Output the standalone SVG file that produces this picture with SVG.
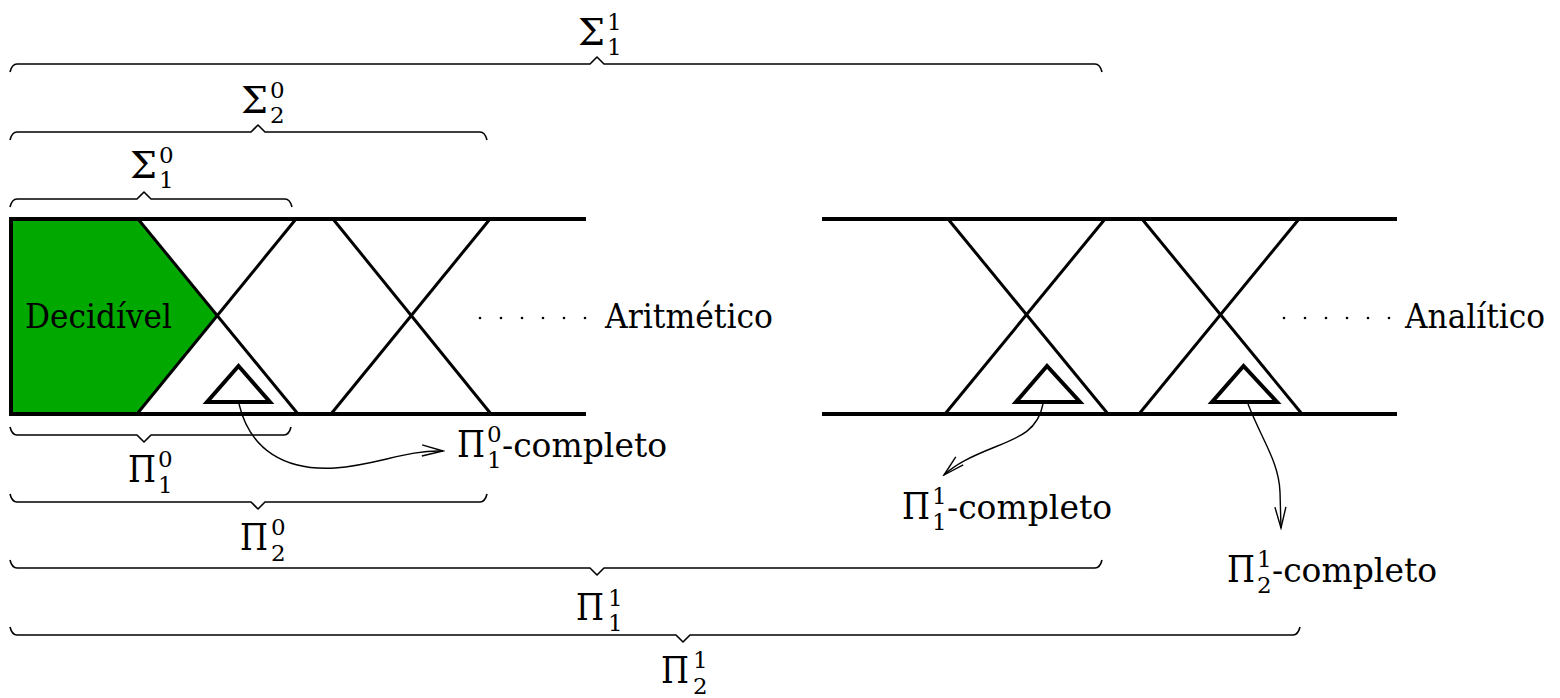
<svg xmlns="http://www.w3.org/2000/svg" width="1560" height="698" viewBox="0 0 1560 698">
<style>
.band{stroke:#000;stroke-width:4;fill:none}
.x{stroke:#000;stroke-width:3;fill:none}
.tri{stroke:#000;stroke-width:4;fill:#fff;stroke-linejoin:miter}
.brace{stroke:#000;stroke-width:1.6;fill:none;stroke-linejoin:round}
.arr{stroke:#000;stroke-width:1.4;fill:none}
text{font-family:"DejaVu Serif","Liberation Serif",serif;fill:#000}
.t{font-size:34px}
.m{font-size:37px}
.s{font-size:23px}
.dot{fill:#000}
</style>
<defs>
<marker id="ah" viewBox="-24 -8 26 16" refX="0" refY="0" markerWidth="26" markerHeight="16" markerUnits="userSpaceOnUse" orient="auto">
<path d="M-21,-5.5 L0,0 L-21,5.5" fill="none" stroke="#000" stroke-width="1.4"/>
</marker>
</defs>

<g id="aritmetico">
<polygon points="11,219 138,219 217,316 137,414 11,414" fill="#00a800"/>
<line class="band" x1="11" y1="219" x2="586" y2="219"/>
<line class="band" x1="11" y1="414" x2="586" y2="414"/>
<line class="band" x1="11" y1="217" x2="11" y2="416"/>
<line class="x" x1="138" y1="219" x2="298" y2="414"/>
<line class="x" x1="296" y1="219" x2="137" y2="414"/>
<line class="x" x1="333" y1="219" x2="491" y2="414"/>
<line class="x" x1="490" y1="219" x2="331" y2="414"/>
<polygon class="tri" points="238.5,366 207,402 270,402"/>
<text class="t" x="25" y="328" textLength="147" lengthAdjust="spacingAndGlyphs">Decidível</text>
<g class="dot"><circle cx="480" cy="318" r="1.3"/><circle cx="501" cy="318" r="1.3"/><circle cx="522" cy="318" r="1.3"/><circle cx="543" cy="318" r="1.3"/><circle cx="564" cy="318" r="1.3"/><circle cx="585" cy="318" r="1.3"/></g>
<text class="t" x="605" y="328" textLength="168" lengthAdjust="spacingAndGlyphs">Aritmético</text>
</g>

<g id="analitico">
<line class="band" x1="822" y1="219" x2="1397" y2="219"/>
<line class="band" x1="822" y1="414" x2="1397" y2="414"/>
<line class="x" x1="948" y1="219" x2="1108" y2="414"/>
<line class="x" x1="1105" y1="219" x2="945" y2="414"/>
<line class="x" x1="1142" y1="219" x2="1302" y2="414"/>
<line class="x" x1="1299" y1="219" x2="1139" y2="414"/>
<polygon class="tri" points="1047,366 1016,402 1080,402"/>
<polygon class="tri" points="1243.5,366 1212,402 1277,402"/>
<g class="dot"><circle cx="1284" cy="318" r="1.3"/><circle cx="1305" cy="318" r="1.3"/><circle cx="1326" cy="318" r="1.3"/><circle cx="1347" cy="318" r="1.3"/><circle cx="1368" cy="318" r="1.3"/><circle cx="1389" cy="318" r="1.3"/></g>
<text class="t" x="1405" y="328" textLength="140" lengthAdjust="spacingAndGlyphs">Analítico</text>
</g>

<g id="braces">
<path class="brace" d="M10,72 Q12,64 17,64 L590,64 L597,57 L604,64 L1095,64 Q1100,64 1102,72"/>
<path class="brace" d="M10,140 Q12,132 17,132 L251,132 L258,125 L265,132 L480,132 Q485,132 487,140"/>
<path class="brace" d="M10,207 Q12,199 17,199 L137,199 L144,192 L151,199 L285,199 Q290,199 292,207"/>
<path class="brace" d="M10,427 Q12,435 17,435 L137,435 L144,442 L151,435 L284,435 Q289,435 291,427"/>
<path class="brace" d="M10,494 Q12,502 17,502 L251,502 L258,509 L265,502 L480,502 Q485,502 487,494"/>
<path class="brace" d="M10,560 Q12,568 17,568 L590,568 L597,575 L604,568 L1095,568 Q1100,568 1102,560"/>
<path class="brace" d="M10,627 Q12,635 17,635 L676,635 L683,642 L690,635 L1293,635 Q1298,635 1300,627"/>
</g>

<g id="label-S11"><text class="m" x="578" y="45" textLength="27" lengthAdjust="spacingAndGlyphs">Σ</text><text class="s" x="607" y="30">1</text><text class="s" x="607" y="55">1</text></g>
<g id="label-S02"><text class="m" x="241" y="113" textLength="27" lengthAdjust="spacingAndGlyphs">Σ</text><text class="s" x="270" y="98">0</text><text class="s" x="270" y="123">2</text></g>
<g id="label-S01"><text class="m" x="130" y="178" textLength="27" lengthAdjust="spacingAndGlyphs">Σ</text><text class="s" x="159" y="163">0</text><text class="s" x="159" y="188">1</text></g>
<g id="label-P01"><text class="m" x="128" y="482" textLength="28" lengthAdjust="spacingAndGlyphs">Π</text><text class="s" x="158" y="467">0</text><text class="s" x="158" y="493">1</text></g>
<g id="label-P02"><text class="m" x="240" y="550" textLength="28" lengthAdjust="spacingAndGlyphs">Π</text><text class="s" x="271" y="535">0</text><text class="s" x="271" y="561">2</text></g>
<g id="label-P11"><text class="m" x="576" y="620" textLength="28" lengthAdjust="spacingAndGlyphs">Π</text><text class="s" x="608" y="606">1</text><text class="s" x="608" y="631">1</text></g>
<g id="label-P12"><text class="m" x="661" y="683" textLength="28" lengthAdjust="spacingAndGlyphs">Π</text><text class="s" x="693" y="668">1</text><text class="s" x="693" y="694">2</text></g>

<g id="label-P01-completo"><text class="m" x="457" y="457" textLength="28" lengthAdjust="spacingAndGlyphs">Π</text><text class="s" x="487" y="442">0</text><text class="s" x="487" y="468">1</text><text class="t" x="502" y="457" textLength="165" lengthAdjust="spacingAndGlyphs">-completo</text></g>
<g id="label-P11-completo"><text class="m" x="902" y="519" textLength="28" lengthAdjust="spacingAndGlyphs">Π</text><text class="s" x="932" y="504">1</text><text class="s" x="932" y="530">1</text><text class="t" x="947" y="519" textLength="165" lengthAdjust="spacingAndGlyphs">-completo</text></g>
<g id="label-P12-completo"><text class="m" x="1227" y="582" textLength="28" lengthAdjust="spacingAndGlyphs">Π</text><text class="s" x="1257" y="567">1</text><text class="s" x="1257" y="593">2</text><text class="t" x="1272" y="582" textLength="165" lengthAdjust="spacingAndGlyphs">-completo</text></g>

<g id="connectors">
<path class="arr" marker-end="url(#ah)" d="M239,404 C250,450 285,471 335,468 C378,465 405,450 443,451"/>
<path class="arr" marker-end="url(#ah)" d="M1043,404 C1038,430 1020,437 995,447 C970,457 956,464 944,475"/>
<path class="arr" marker-end="url(#ah)" d="M1248,404 C1262,440 1279,462 1280,492 L1281,528"/>
</g>
</svg>
